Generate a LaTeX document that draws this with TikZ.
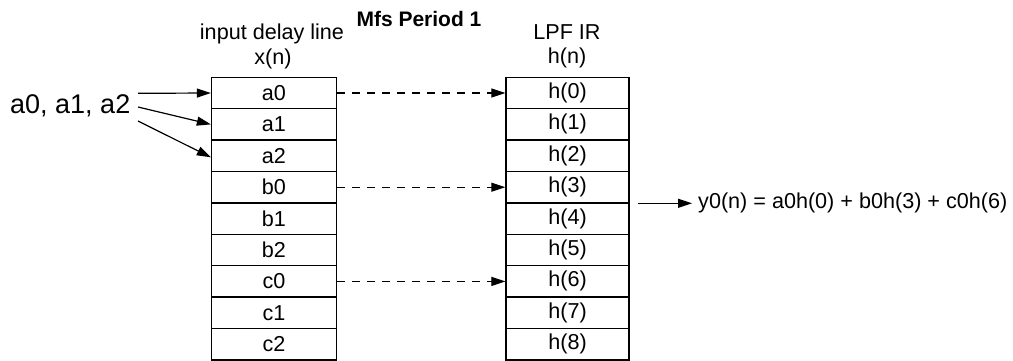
\documentclass[tikz,border=0pt]{standalone}
\usepackage{fontspec}
\setmainfont{Liberation Sans}
\usetikzlibrary{arrows.meta}
\begin{document}
\begin{tikzpicture}[x=1pt,y=-1pt,
  cell/.style={draw,line width=1.3pt,minimum height=31.4pt,inner sep=0pt,font=\fontsize{21.6}{25}\selectfont},
  lcell/.style={cell,minimum width=125pt},
  rcell/.style={cell,minimum width=123pt},
  lbl/.style={inner sep=0pt,font=\fontsize{21.6}{25}\selectfont},
  arr/.style={line width=1.2pt,-{Triangle[length=14pt,width=9pt]}},
  darr/.style={arr,dash pattern=on 8pt off 7pt}]
\useasboundingbox (0,0) rectangle (1013,360);
% left column
\foreach \n/\t [count=\i from 0] in {a0/a0,a1/a1,a2/a2,b0/b0,b1/b1,b2/b2,c0/c0,c1/c1,c2/c2}
  \node[lcell] (\n) at (274,{77.3+31.4*(\i+0.5)}) {\t};
\foreach \i in {0,...,8}
  \node[rcell] (h\i) at (567.5,{77.3+31.4*(\i+0.5)}) {h(\i)};
% headers
\node[lbl] (hdr1) at (272,34) {input delay line};
\node[lbl] (hdr2) at (273,59) {x(n)};
\node[lbl,font=\fontsize{21}{24}\selectfont\bfseries] (title) at (419,19) {Mfs Period 1};
\node[lbl] (hdr3) at (567,32) {LPF IR};
\node[lbl] (hdr4) at (567,58) {h(n)};
% input label and arrows
\node[lbl,font=\fontsize{27}{30}\selectfont,anchor=west] (in) at (10,106) {a0, a1, a2};
\coordinate (s1) at (138,93.3);
\coordinate (s2) at (138,107);
\coordinate (s3) at (138,121);
\draw[arr] (s1) -- (a0.west);
\draw[arr] (s2) -- (a1.west);
\draw[arr] (s3) -- ([yshift=-1.5pt]a2.west);
% dashed arrows
\draw[darr] (a0.east) -- (h0.west);
\draw[darr] (b0.east) -- (h3.west);
\draw[darr] (c0.east) -- (h6.west);
% output
\coordinate (o) at (638,203.3);
\node[lbl,anchor=west,inner sep=0pt] (out) at (698,203.3) {y0(n) = a0h(0) + b0h(3) + c0h(6)};
\draw[arr] (o) -- ([xshift=-6pt]out.west);
\end{tikzpicture}
\end{document}
